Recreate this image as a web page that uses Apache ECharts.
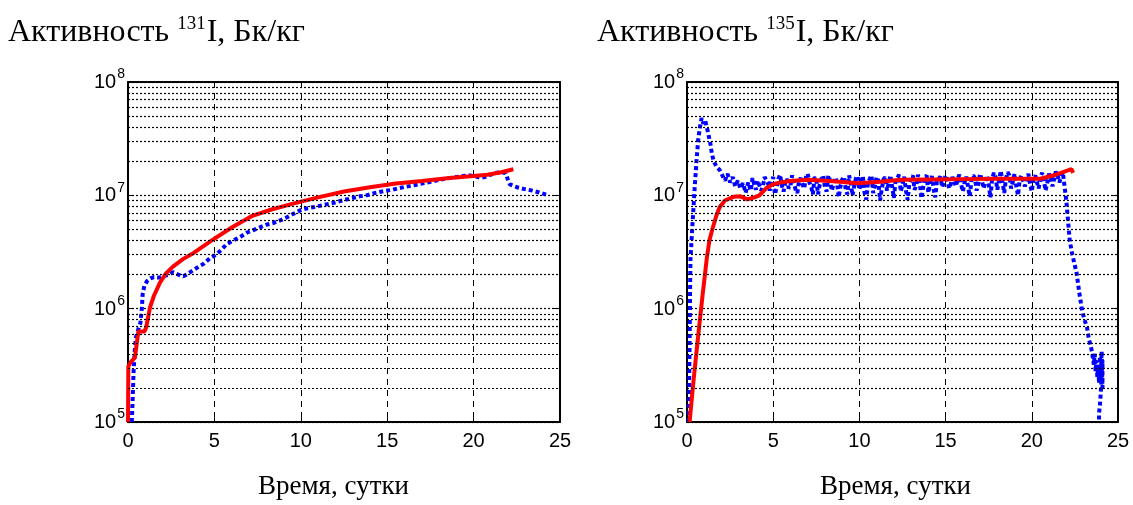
<!DOCTYPE html>
<html>
<head>
<meta charset="utf-8">
<script src="https://cdn.jsdelivr.net/npm/echarts@6/dist/echarts.min.js"></script>
<style>
html,body{margin:0;padding:0;background:#fff;}
#chart{width:1133px;height:505px;}
</style>
</head>
<body>
<div id="chart"></div>
<script>
// ---------- DATA ----------
const xTicks = [0, 5, 10, 15, 20, 25];
const yDecades = [1e5, 1e6, 1e7, 1e8];
const minorGridValues = [2e5,3e5,4e5,5e5,6e5,7e5,8e5,9e5,2e6,3e6,4e6,5e6,6e6,7e6,8e6,9e6,2e7,3e7,4e7,5e7,6e7,7e7,8e7,9e7];

const titleLeft = ['Активность ', '131', 'I, Бк/кг'];
const titleRight = ['Активность ', '135', 'I, Бк/кг'];
const xAxisTitle = 'Время, сутки';

// I-131 calculation (red)
const calc131X = [0, 0.02, 0.17, 0.4, 0.6, 0.95, 1.05, 1.27, 1.5, 1.85, 2.2, 2.6, 3.2, 3.8, 4.85, 6.0, 7.2, 8.3, 9.5, 11.0, 12.5, 14.0, 15.5, 17.0, 18.6, 20.0, 20.8, 21.6, 22.3];
const calc131Y = [1e5, 3.1e5, 3.4e5, 3.7e5, 6.3e5, 6.3e5, 6.8e5, 1.02e6, 1.3e6, 1.7e6, 2.05e6, 2.35e6, 2.75e6, 3.1e6, 4.0e6, 5.2e6, 6.6e6, 7.5e6, 8.4e6, 9.6e6, 1.08e7, 1.18e7, 1.27e7, 1.34e7, 1.42e7, 1.48e7, 1.52e7, 1.6e7, 1.7e7];

// I-131 measurement (blue)
const meas131X = [0.22,0.27,0.32,0.38,0.45,0.6,0.72,0.8,0.85,0.95,1.1,1.3,1.5,1.8,2.1,2.4,2.6,2.9,3.2,3.5,3.8,4.1,4.4,4.75,5.1,5.4,5.7,6.1,6.5,6.9,7.2,7.6,8.0,8.4,8.8,9.2,9.6,10.0,10.4,10.8,11.3,11.9,12.4,12.9,13.4,13.8,14.3,14.8,15.3,15.7,16.2,16.7,17.2,17.6,18.0,18.5,19.0,19.4,19.8,20.1,20.4,20.7,21.0,21.3,21.6,21.85,22.0,22.1,22.5,22.9,23.4,23.8,24.3];
const meas131Y = [1e5,1.6e5,2.7e5,4e5,5.5e5,6.6e5,7.5e5,1.0e6,1.35e6,1.6e6,1.75e6,1.85e6,1.9e6,1.88e6,1.95e6,2.0e6,2.1e6,2.0e6,1.93e6,2.05e6,2.2e6,2.35e6,2.5e6,2.8e6,3.0e6,3.3e6,3.7e6,4.0e6,4.3e6,4.7e6,4.9e6,5.2e6,5.5e6,5.7e6,6.0e6,6.4e6,6.9e6,7.4e6,7.7e6,7.9e6,8.2e6,8.6e6,9.0e6,9.4e6,9.8e6,1.0e7,1.05e7,1.09e7,1.12e7,1.16e7,1.2e7,1.24e7,1.29e7,1.32e7,1.37e7,1.41e7,1.45e7,1.48e7,1.5e7,1.47e7,1.42e7,1.46e7,1.52e7,1.58e7,1.6e7,1.57e7,1.35e7,1.25e7,1.18e7,1.14e7,1.1e7,1.06e7,1.0e7];

// I-135 calculation (red)
const calc135X = [0.15,0.4,0.64,0.9,1.15,1.3,1.45,1.7,1.9,2.2,2.7,3.1,3.5,3.9,4.2,4.6,5.0,5.4,6.0,7.0,8.5,9.9,11.2,12.4,14.1,16.0,18.0,20.5,21.4,22.3,22.4];
const calc135Y = [1e5,2.5e5,5.6e5,1.3e6,2.8e6,4.0e6,4.9e6,6.6e6,7.9e6,9.0e6,9.7e6,9.8e6,9.2e6,9.6e6,1.0e7,1.16e7,1.25e7,1.3e7,1.34e7,1.37e7,1.33e7,1.28e7,1.32e7,1.37e7,1.38e7,1.39e7,1.4e7,1.4e7,1.52e7,1.7e7,1.58e7];

// I-135 measurement (blue)
const meas135X = [0.1,0.12,0.15,0.18,0.2,0.3,0.45,0.55,0.65,0.75,0.85,0.95,1.05,1.15,1.25,1.35,1.45,1.55,1.7,1.9,2.05,2.2,2.35,2.5,2.65,2.8,2.95,3.1,3.25,3.4,3.55,3.7,
3.8,3.9,4.0,4.1,4.2,4.3,4.4,4.5,4.6,4.7,4.8,4.9,5.0,5.1,5.2,5.3,5.4,5.5,5.6,5.7,5.8,5.9,6.0,6.1,6.2,6.3,6.4,6.5,6.6,6.7,6.8,6.9,7.0,7.1,7.2,7.3,7.4,7.5,7.6,7.7,7.8,7.9,8.0,8.1,8.2,8.3,8.4,8.5,8.6,8.7,8.8,8.9,9.0,9.1,9.2,9.3,9.4,9.5,9.6,9.7,9.8,9.9,10.0,10.1,10.2,10.3,10.4,10.5,10.6,10.7,10.8,10.9,11.0,11.1,11.2,11.3,11.4,11.5,11.6,11.7,11.8,11.9,12.0,12.1,12.2,12.3,12.4,12.5,12.6,12.7,12.8,12.9,13.0,13.1,13.2,13.3,13.4,13.5,13.6,13.7,13.8,13.9,14.0,14.1,14.2,14.3,14.4,14.5,14.6,14.7,14.8,14.9,15.0,15.1,15.2,15.3,15.4,15.5,15.6,15.7,15.8,15.9,16.0,16.1,16.2,16.3,16.4,16.5,16.6,16.7,16.8,16.9,17.0,17.1,17.2,17.3,17.4,17.5,17.6,17.7,17.8,17.9,18.0,18.1,18.2,18.3,18.4,18.5,18.6,18.7,18.8,18.9,19.0,19.1,19.2,19.3,19.4,19.5,19.6,19.7,19.8,19.9,20.0,20.1,20.2,20.3,20.4,20.5,20.6,20.7,20.8,20.9,21.0,21.1,21.2,21.3,21.4,21.5,21.6,21.7,21.8,
21.9,22.0,22.1,22.2,22.35,22.6,22.75,22.9,23.05,23.2,23.3,23.4,23.5,23.6,23.65,23.7,23.75,23.8,23.85,23.9,23.95,24.0,24.05,24.1,24.1,24.0,23.95,23.9,23.9];
const meas135Y = [1e5,1.9e5,5e5,1.5e6,2.7e6,5e6,1.2e7,2.0e7,3.1e7,4.0e7,4.8e7,4.3e7,4.6e7,4.0e7,3.4e7,2.9e7,2.3e7,2.0e7,1.8e7,1.67e7,1.5e7,1.35e7,1.55e7,1.3e7,1.45e7,1.2e7,1.35e7,1.15e7,1.28e7,1.05e7,1.3e7,1.1e7,
1.42e7,1.25e7,1.12e7,1.35e7,1.38e7,1.1e7,1.2e7,1.45e7,1.5e7,1.28e7,1.1e7,1.32e7,1.45e7,1.02e7,1.18e7,1.4e7,1.52e7,1.22e7,1.08e7,1.3e7,1.4e7,1.15e7,1.22e7,1.5e7,1.48e7,1.12e7,1.05e7,1.35e7,1.42e7,1.25e7,1.15e7,1.45e7,1.55e7,1.3e7,1.2e7,1.02e7,1.45e7,1.38e7,1.02e7,1.25e7,1.4e7,1.5e7,1.18e7,1.08e7,1.5e7,1.35e7,1.1e7,1.25e7,1.44e7,1.3e7,9.6e6,1.2e7,1.38e7,1.46e7,1.15e7,1.02e7,1.5e7,1.28e7,1.0e7,1.2e7,1.42e7,1.48e7,1.12e7,1.32e7,1.48e7,1.05e7,9.2e6,1.3e7,1.4e7,1.5e7,1.05e7,1.2e7,1.45e7,1.35e7,9.0e6,1.15e7,1.38e7,1.45e7,1.1e7,1.28e7,1.5e7,1.2e7,9.5e6,1.35e7,1.42e7,1.52e7,1.08e7,1.25e7,1.46e7,1.1e7,9.1e6,1.3e7,1.4e7,1.5e7,1.12e7,1.22e7,1.52e7,1.3e7,9.4e6,1.18e7,1.44e7,1.5e7,1.05e7,1.28e7,1.48e7,1.15e7,9.6e6,1.35e7,1.4e7,1.46e7,1.18e7,1.3e7,1.5e7,1.38e7,1.15e7,1.25e7,1.45e7,1.32e7,1.2e7,1.4e7,1.52e7,1.25e7,1.08e7,1.3e7,1.46e7,1.2e7,9.8e6,1.35e7,1.5e7,1.42e7,1.1e7,1.28e7,1.55e7,1.38e7,1.15e7,1.3e7,1.5e7,1.25e7,9.6e6,1.4e7,1.58e7,1.45e7,1.12e7,1.35e7,1.65e7,1.3e7,1.05e7,1.4e7,1.6e7,1.5e7,1.15e7,1.32e7,1.55e7,1.2e7,1.0e7,1.38e7,1.5e7,1.45e7,1.2e7,1.35e7,1.55e7,1.25e7,1.08e7,1.4e7,1.5e7,1.3e7,1.15e7,1.45e7,1.58e7,1.35e7,1.1e7,1.3e7,1.55e7,1.42e7,1.2e7,1.4e7,1.62e7,1.5e7,1.3e7,1.45e7,1.6e7,
1.2e7,9e6,6e6,4e6,3e6,2.06e6,1.4e6,1.0e6,8e5,6.9e5,5.5e5,4.8e5,4.1e5,3.2e5,4e5,2.8e5,3.5e5,2.5e5,3.2e5,2.2e5,3.8e5,2.4e5,4.2e5,2.0e5,3.5e5,1.8e5,1.4e5,1.2e5,1e5];

// ---------- CHART ----------
const zip = (xs, ys) => xs.map((x, i) => [x, ys[i]]);
const chart = echarts.init(document.getElementById('chart'), null, {renderer: 'canvas'});

const sansFont = '"Liberation Sans", Arial, sans-serif';
const serifFont = '"Liberation Serif", "Times New Roman", serif';

function xAx(gridIndex, top) {
  return {
    type: 'value', gridIndex, min: 0, max: 25, interval: 5,
    position: top ? 'top' : 'bottom',
    axisLine: {show: true, onZero: false, lineStyle: {color: '#000', width: 2}},
    axisTick: {show: true, inside: true, length: 6, lineStyle: {color: '#000', width: 1}},
    axisLabel: {show: !top, color: '#000', fontFamily: sansFont, fontSize: 20, margin: 9},
    splitLine: {show: !top, lineStyle: {color: '#000', width: 1, type: [6, 5]}}
  };
}
function yAx(gridIndex, right) {
  return {
    type: 'log', logBase: 10, gridIndex, min: 1e5, max: 1e8,
    position: right ? 'right' : 'left',
    axisLine: {show: true, onZero: false, lineStyle: {color: '#000', width: 2}},
    axisTick: {show: true, inside: true, length: 6, lineStyle: {color: '#000', width: 1}},
    axisLabel: {
      show: !right, margin: 3,
      formatter: v => '{b|10}{s|' + Math.round(Math.log10(v)) + '}',
      rich: {
        b: {fontFamily: sansFont, fontSize: 20, color: '#000', verticalAlign: 'bottom', padding: [0, 0, 4, 0]},
        s: {fontFamily: sansFont, fontSize: 14, color: '#000', verticalAlign: 'bottom', padding: [0, 0, 15, 1]}
      }
    },
    splitLine: {show: !right, lineStyle: {color: '#000', width: 1.2, type: [2, 2]}}
  };
}
function minorGridSeries(xi, yi) {
  return {
    type: 'line', xAxisIndex: xi, yAxisIndex: yi, data: [], silent: true, z: 1,
    markLine: {
      silent: true, symbol: ['none', 'none'], animation: false,
      label: {show: false},
      lineStyle: {color: '#000', width: 1.2, type: [2, 2]},
      data: minorGridValues.map(v => ({yAxis: v}))
    }
  };
}
function redSeries(xi, yi, data) {
  return {type: 'line', xAxisIndex: xi, yAxisIndex: yi, data, showSymbol: false, symbol: 'none',
    lineStyle: {color: '#FF0000', width: 4}, z: 4, animation: false};
}
function blueSeries(xi, yi, data) {
  return {type: 'line', xAxisIndex: xi, yAxisIndex: yi, data, showSymbol: false, symbol: 'none',
    lineStyle: {color: '#0000FF', width: 4, type: [4, 3], cap: 'butt'}, z: 3, animation: false};
}

function titleText(parts, x) {
  return {
    type: 'text', left: x, top: 15,
    style: {
      text: '{t|' + parts[0] + '}{u|' + parts[1] + '}{t|' + parts[2] + '}',
      rich: {
        t: {fontFamily: serifFont, fontSize: 32, fill: '#000', verticalAlign: 'bottom'},
        u: {fontFamily: serifFont, fontSize: 19, fill: '#000', verticalAlign: 'bottom', padding: [0, 1, 15, 0]}
      }
    }
  };
}

const option = {
  animation: false,
  backgroundColor: '#fff',
  grid: [
    {left: 128, top: 82, width: 432, height: 340, show: false},
    {left: 687, top: 82, width: 431, height: 340, show: false}
  ],
  xAxis: [xAx(0, false), xAx(0, true), xAx(1, false), xAx(1, true)],
  yAxis: [yAx(0, false), yAx(0, true), yAx(1, false), yAx(1, true)],
  series: [
    minorGridSeries(0, 0),
    minorGridSeries(2, 2),
    blueSeries(0, 0, zip(meas131X, meas131Y)),
    redSeries(0, 0, zip(calc131X, calc131Y)),
    blueSeries(2, 2, zip(meas135X, meas135Y)),
    redSeries(2, 2, zip(calc135X, calc135Y))
  ],
  graphic: [
    titleText(titleLeft, 8),
    titleText(titleRight, 597),
    {type: 'text', left: 258, top: 473, style: {text: xAxisTitle, fontFamily: serifFont, fontSize: 27, fill: '#000'}},
    {type: 'text', left: 820, top: 473, style: {text: xAxisTitle, fontFamily: serifFont, fontSize: 27, fill: '#000'}}
  ]
};
chart.setOption(option);
</script>
</body>
</html>
